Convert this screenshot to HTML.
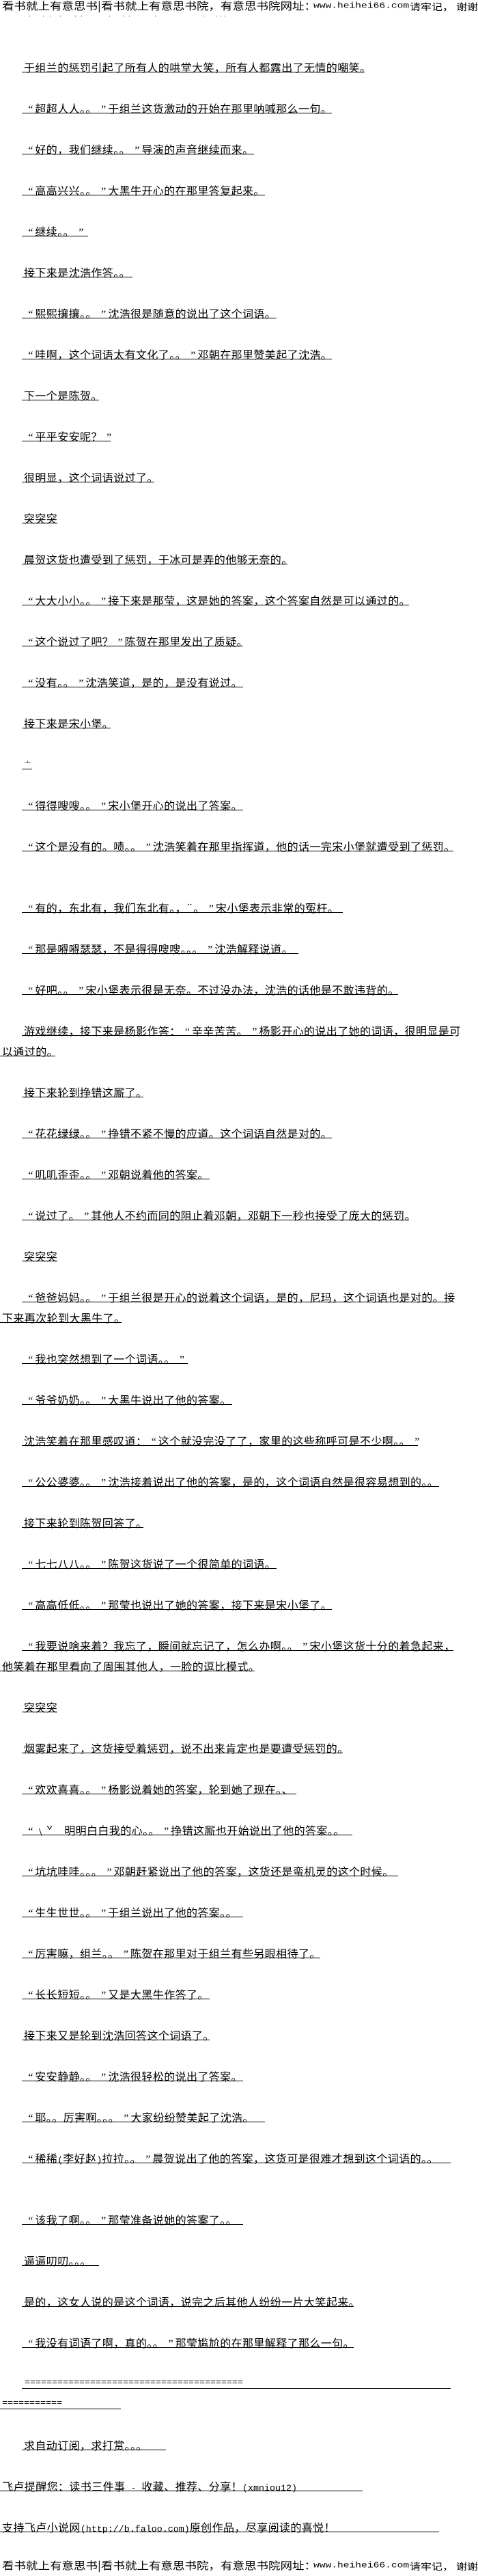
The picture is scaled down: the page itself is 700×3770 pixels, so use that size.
<!DOCTYPE html>
<html lang="zh"><head><meta charset="utf-8"><style>
html,body{margin:0;padding:0;background:#fff}
body{position:relative;width:700px;height:3770px;overflow:hidden;color:#000;font-family:"WenQuanYi Zen Hei","Noto Sans CJK SC",sans-serif;font-size:16px}
.l{position:absolute;left:32px;height:15px;line-height:16px;border-bottom:1px solid #000;padding-left:0;white-space:nowrap;letter-spacing:.4px}
.l b{font-weight:400;display:inline-block;margin-left:3px}
.l i{font:400 16px/16px "Liberation Serif",serif;display:inline-block;width:16.4px;letter-spacing:0;text-align:right;padding-right:3px;box-sizing:border-box}
.l u{text-decoration:none;font:13.33px/16px "Liberation Mono",monospace;letter-spacing:0}
.n{left:0}
.h{position:absolute;white-space:nowrap;font-size:17.5px;line-height:16px;height:16px;transform-origin:0 0;transform:scaleY(.85)}
.m{font-family:"Liberation Mono",monospace;font-size:14.6px}
.e{font:13.33px/15px "Liberation Mono",monospace;letter-spacing:0}
.d{position:absolute;left:43px;top:23px;width:1px;height:1px;background:#000;box-shadow:20px 0 #000,31px 0 #000,45px 0 #000,67px 0 #000,76px 0 #000,117px 0 #000,137px 0 #000,146px 0 #000,184px 0 #000,254px 0 #000,274px 0 #000,280px 0 #000,286px 0 #000}
</style></head><body>
<div class="h" style="left:3px;top:2px">看书就上有意思书|</div><div class="h" style="left:148px;top:2px">看书就上有意思书院，有意思书院网址：</div><div class="h m" style="left:459px;top:2px">www.heihei66.com</div><div class="h" style="left:600px;top:2px;font-size:16px">请牢记，</div><div class="h" style="left:668px;top:2px;font-size:16px">谢谢</div>
<div class="d"></div>
<div class="l" style="top:90px;width:502px"><b>于组兰的惩罚引起了所有人的哄堂大笑，所有人都露出了无情的嘲笑。</b></div>
<div class="l" style="top:150px;width:454px"><b><i>“</i>超超人人。。<i>”</i>于组兰这货激动的开始在那里呐喊那么一句。</b></div>
<div class="l" style="top:210px;width:340px"><b><i>“</i>好的，我们继续。。<i>”</i>导演的声音继续而来。</b></div>
<div class="l" style="top:270px;width:356px"><b><i>“</i>高高兴兴。。<i>”</i>大黑牛开心的在那里答复起来。</b></div>
<div class="l" style="top:330px;width:97px"><b><i>“</i>继续。。<i>”</i></b></div>
<div class="l" style="top:390px;width:162px"><b>接下来是沈浩作答。。</b></div>
<div class="l" style="top:450px;width:373px"><b><i>“</i>熙熙攘攘。。<i>”</i>沈浩很是随意的说出了这个词语。</b></div>
<div class="l" style="top:510px;width:454px"><b><i>“</i>哇啊，这个词语太有文化了。。<i>”</i>邓朝在那里赞美起了沈浩。</b></div>
<div class="l" style="top:570px;width:113px"><b>下一个是陈贺。</b></div>
<div class="l" style="top:630px;width:130px"><b><i>“</i>平平安安呢？<i>”</i></b></div>
<div class="l" style="top:690px;width:194px"><b>很明显，这个词语说过了。</b></div>
<div class="l" style="top:750px;width:52px"><b>突突突</b></div>
<div class="l" style="top:810px;width:389px"><b>晨贺这货也遭受到了惩罚，于冰可是弄的他够无奈的。</b></div>
<div class="l" style="top:870px;width:567px"><b><i>“</i>大大小小。。<i>”</i>接下来是那莹，这是她的答案，这个答案自然是可以通过的。</b></div>
<div class="l" style="top:930px;width:324px"><b><i>“</i>这个说过了吧？<i>”</i>陈贺在那里发出了质疑。</b></div>
<div class="l" style="top:990px;width:324px"><b><i>“</i>没有。。<i>”</i>沈浩笑道，是的，是没有说过。</b></div>
<div class="l" style="top:1050px;width:130px"><b>接下来是宋小堡。</b></div>
<div class="l" style="top:1110px;width:15px;font-size:9px"><b style="margin-left:4px">亠</b></div>
<div class="l" style="top:1170px;width:324px"><b><i>“</i>得得嗖嗖。。<i>”</i>宋小堡开心的说出了答案。</b></div>
<div class="l" style="top:1230px;width:632px"><b><i>“</i>这个是没有的。啧。。<i>”</i>沈浩笑着在那里指挥道，他的话一完宋小堡就遭受到了惩罚。</b></div>
<div class="l" style="top:1320px;width:470px"><b><i>“</i>有的，东北有，我们东北有。，¨。<i>”</i>宋小堡表示非常的冤枉。</b></div>
<div class="l" style="top:1380px;width:405px"><b><i>“</i>那是嘚嘚瑟瑟，不是得得嗖嗖。。。<i>”</i>沈浩解释说道。</b></div>
<div class="l" style="top:1440px;width:551px"><b><i>“</i>好吧。。<i>”</i>宋小堡表示很是无奈。不过没办法，沈浩的话他是不敢违背的。</b></div>
<div class="l" style="top:1500px;width:632px"><b>游戏继续，接下来是杨影作答：<i>“</i>辛辛苦苦。<i>”</i>杨影开心的说出了她的词语，很明显是可</b></div>
<div class="l n" style="top:1530px;width:81px"><b>以通过的。</b></div>
<div class="l" style="top:1590px;width:178px"><b>接下来轮到挣错这厮了。</b></div>
<div class="l" style="top:1650px;width:454px"><b><i>“</i>花花绿绿。。<i>”</i>挣错不紧不慢的应道。这个词语自然是对的。</b></div>
<div class="l" style="top:1710px;width:275px"><b><i>“</i>叽叽歪歪。。<i>”</i>邓朝说着他的答案。</b></div>
<div class="l" style="top:1770px;width:567px"><b><i>“</i>说过了。<i>”</i>其他人不约而同的阻止着邓朝，邓朝下一秒也接受了庞大的惩罚。</b></div>
<div class="l" style="top:1830px;width:52px"><b>突突突</b></div>
<div class="l" style="top:1890px;width:628px"><b><i>“</i>爸爸妈妈。。<i>”</i>于组兰很是开心的说着这个词语，是的，尼玛，这个词语也是对的。接</b></div>
<div class="l n" style="top:1920px;width:178px"><b>下来再次轮到大黑牛了。</b></div>
<div class="l" style="top:1980px;width:243px"><b><i>“</i>我也突然想到了一个词语。。<i>”</i></b></div>
<div class="l" style="top:2040px;width:308px"><b><i>“</i>爷爷奶奶。。<i>”</i>大黑牛说出了他的答案。</b></div>
<div class="l" style="top:2100px;width:580px"><b>沈浩笑着在那里感叹道：<i>“</i>这个就没完没了了，家里的这些称呼可是不少啊。。<i>”</i></b></div>
<div class="l" style="top:2160px;width:611px"><b><i>“</i>公公婆婆。。<i>”</i>沈浩接着说出了他的答案，是的，这个词语自然是很容易想到的。。</b></div>
<div class="l" style="top:2220px;width:178px"><b>接下来轮到陈贺回答了。</b></div>
<div class="l" style="top:2280px;width:373px"><b><i>“</i>七七八八。。<i>”</i>陈贺这货说了一个很简单的词语。</b></div>
<div class="l" style="top:2340px;width:454px"><b><i>“</i>高高低低。。<i>”</i>那莹也说出了她的答案，接下来是宋小堡了。</b></div>
<div class="l" style="top:2400px;width:632px"><b><i>“</i>我要说啥来着？我忘了，瞬间就忘记了，怎么办啊。。<i>”</i>宋小堡这货十分的着急起来，</b></div>
<div class="l n" style="top:2430px;width:373px"><b>他笑着在那里看向了周围其他人，一脸的逗比模式。</b></div>
<div class="l" style="top:2490px;width:52px"><b>突突突</b></div>
<div class="l" style="top:2550px;width:470px"><b>烟雾起来了，这货接受着惩罚，说不出来肯定也是要遭受惩罚的。</b></div>
<div class="l" style="top:2610px;width:402px"><b><i>“</i>欢欢喜喜。。<i>”</i>杨影说着她的答案，轮到她了现在。、</b></div>
<div class="l" style="top:2670px;width:484px"><b><i>“</i>﹨ˇ　明明白白我的心。。<i>”</i>挣错这厮也开始说出了他的答案。。</b></div>
<div class="l" style="top:2730px;width:551px"><b><i>“</i>坑坑哇哇。。。<i>”</i>邓朝赶紧说出了他的答案，这货还是蛮机灵的这个时候。</b></div>
<div class="l" style="top:2790px;width:324px"><b><i>“</i>生生世世。。<i>”</i>于组兰说出了他的答案。。</b></div>
<div class="l" style="top:2850px;width:437px"><b><i>“</i>厉害嘛，组兰。。<i>”</i>陈贺在那里对于组兰有些另眼相待了。</b></div>
<div class="l" style="top:2910px;width:275px"><b><i>“</i>长长短短。。<i>”</i>又是大黑牛作答了。</b></div>
<div class="l" style="top:2970px;width:275px"><b>接下来又是轮到沈浩回答这个词语了。</b></div>
<div class="l" style="top:3030px;width:324px"><b><i>“</i>安安静静。。<i>”</i>沈浩很轻松的说出了答案。</b></div>
<div class="l" style="top:3090px;width:356px"><b><i>“</i>耶。。厉害啊。。。<i>”</i>大家纷纷赞美起了沈浩。</b></div>
<div class="l" style="top:3150px;width:628px"><b><i>“</i>稀稀<u>(</u>李好赵<u>)</u>拉拉。。<i>”</i>晨贺说出了他的答案，这货可是很难才想到这个词语的。。</b></div>
<div class="l" style="top:3240px;width:324px"><b><i>“</i>该我了啊。。<i>”</i>那莹准备说她的答案了。。</b></div>
<div class="l" style="top:3300px;width:113px"><b>逼逼叨叨。。。</b></div>
<div class="l" style="top:3360px;width:486px"><b>是的，这女人说的是这个词语，说完之后其他人纷纷一片大笑起来。</b></div>
<div class="l" style="top:3420px;width:486px"><b><i>“</i>我没有词语了啊，真的。。<i>”</i>那莹尴尬的在那里解释了那么一句。</b></div>
<div class="l e" style="top:3480px;width:628px"><b style="margin-left:4px">========================================</b></div>
<div class="l n e" style="top:3510px;width:177px"><b style="margin-left:3px">===========</b></div>
<div class="l" style="top:3570px;width:211px"><b>求自动订阅，求打赏。。。</b></div>
<div class="l n" style="top:3630px;width:531px"><b>飞卢提醒您：读书三件事<u> - </u>收藏、推荐、分享！<u>(xmniou12)</u></b></div>
<div class="l n" style="top:3690px;width:643px"><b>支持飞卢小说网<u>(http://b.faloo.com)</u>原创作品，尽享阅读的喜悦！</b></div>
<div class="h" style="left:3px;top:3748px">看书就上有意思书|</div><div class="h" style="left:148px;top:3748px">看书就上有意思书院，有意思书院网址：</div><div class="h m" style="left:459px;top:3748px">www.heihei66.com</div><div class="h" style="left:600px;top:3748px;font-size:16px">请牢记，</div><div class="h" style="left:668px;top:3748px;font-size:16px">谢谢</div>
</body></html>
